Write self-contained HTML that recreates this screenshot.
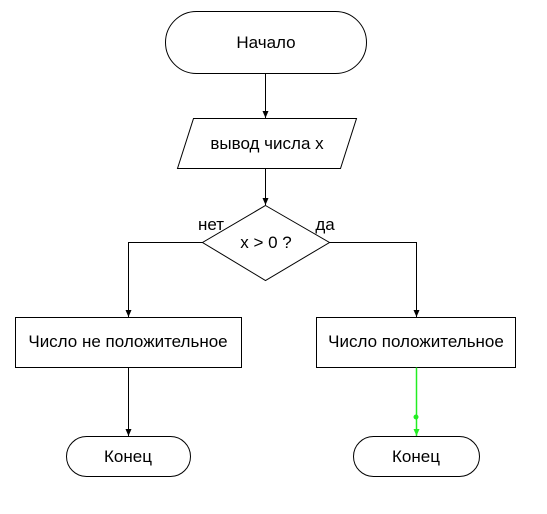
<!DOCTYPE html>
<html><head><style>body{margin:0;background:#fff}</style></head><body>
<svg width="547" height="509" xmlns="http://www.w3.org/2000/svg" font-family="Liberation Sans, sans-serif" font-size="17">
<defs>
<marker id="a" markerWidth="8" markerHeight="8" refX="7" refY="4" orient="auto" markerUnits="userSpaceOnUse"><path d="M0,1 L7,4 L0,7 Z" fill="#000"/></marker>
<marker id="g" markerWidth="8" markerHeight="8" refX="7" refY="4" orient="auto" markerUnits="userSpaceOnUse"><path d="M0,1 L7,4 L0,7 Z" fill="#22ee22"/></marker>
</defs>
<g fill="#fff" stroke="#000" stroke-width="1">
<rect x="165.5" y="11.5" width="201" height="62" rx="31"/>
<polygon points="193.5,118.5 356.5,118.5 340.5,168.5 177.5,168.5"/>
<polygon points="265.5,205.5 329.5,242.5 265.5,280.5 202.5,242.5"/>
<rect x="15.5" y="317.5" width="226" height="50"/>
<rect x="316.5" y="317.5" width="199" height="50"/>
<rect x="66.5" y="436.5" width="124" height="40" rx="20"/>
<rect x="353.5" y="436.5" width="126" height="40" rx="20"/>
</g>
<g fill="none" stroke="#000">
<path d="M265.5,73.5 V118" marker-end="url(#a)"/>
<path d="M265.5,168.5 V205" marker-end="url(#a)"/>
<path d="M202.5,242.5 H128.5 V317" marker-end="url(#a)"/>
<path d="M329.5,242.5 H416.5 V317" marker-end="url(#a)"/>
<path d="M128.5,367.5 V436" marker-end="url(#a)"/>
</g>
<path d="M416.5,367.5 V436" stroke="#22ee22" stroke-width="1.5" fill="none" marker-end="url(#g)"/>
<circle cx="416" cy="417" r="2.5" fill="#22ee22"/>
<g fill="#000" text-anchor="middle">
<text x="266" y="48">Начало</text>
<text x="267" y="149">вывод числа x</text>
<text x="266" y="248">x &gt; 0 ?</text>
<text x="211" y="230">нет</text>
<text x="325" y="230">да</text>
<text x="128" y="347">Число не положительное</text>
<text x="416" y="347">Число положительное</text>
<text x="128" y="462">Конец</text>
<text x="416" y="462">Конец</text>
</g>
</svg>
</body></html>
